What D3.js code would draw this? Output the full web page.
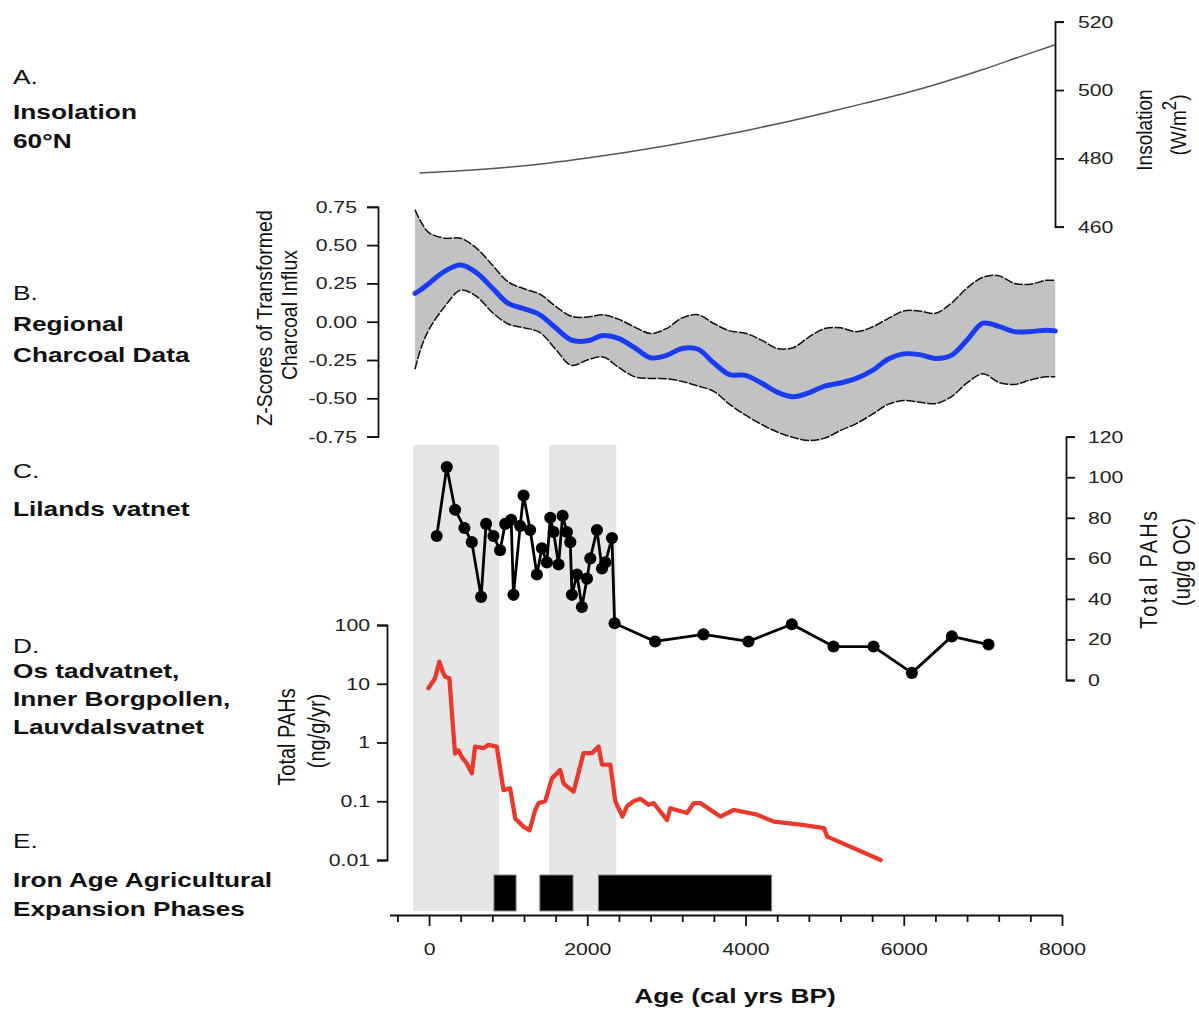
<!DOCTYPE html>
<html><head><meta charset="utf-8">
<script src="https://cdn.jsdelivr.net/npm/d3@7"></script>
<style>
body{margin:0;background:#fff;}
svg{display:block;font-family:"Liberation Sans",Arial,sans-serif;}
</style></head><body>
<svg id="chart" width="1199" height="1013"></svg>
<script>
// ---------------- DATA ----------------
const insolYears  = [-120, 500, 1000, 1500, 2000, 2500, 3000, 3500, 4000, 4500, 5000, 5500, 6000, 6500, 7000, 7500, 7920];
const insolValues = [475.7, 476.5, 477.4, 478.6, 480.1, 481.8, 483.7, 485.8, 488.1, 490.6, 493.3, 496.1, 499.0, 502.3, 506.0, 510.0, 513.3];
const insolTicks = [460, 480, 500, 520];

const charcoalYears = [-178, -100, 0, 200, 400, 600, 800, 1000, 1200, 1400, 1600, 1800, 2000, 2200, 2400, 2600, 2800, 3000, 3200, 3400, 3600, 3800, 4000, 4200, 4400, 4600, 4800, 5000, 5200, 5400, 5600, 5800, 6000, 6200, 6400, 6600, 6800, 7000, 7200, 7400, 7600, 7800, 7915];
const charcoalMean  = [0.185, 0.21, 0.25, 0.33, 0.37, 0.32, 0.22, 0.12, 0.085, 0.045, -0.04, -0.12, -0.125, -0.09, -0.11, -0.17, -0.235, -0.22, -0.175, -0.18, -0.27, -0.345, -0.35, -0.40, -0.46, -0.49, -0.465, -0.42, -0.40, -0.37, -0.32, -0.245, -0.21, -0.215, -0.24, -0.22, -0.12, -0.01, -0.03, -0.065, -0.065, -0.055, -0.06];
const charcoalUpper = [0.73, 0.65, 0.58, 0.545, 0.545, 0.48, 0.37, 0.26, 0.215, 0.18, 0.10, 0.035, 0.03, 0.045, 0.015, -0.035, -0.077, -0.045, 0.025, 0.045, -0.012, -0.06, -0.075, -0.12, -0.175, -0.17, -0.10, -0.045, -0.04, -0.065, -0.035, 0.02, 0.07, 0.07, 0.055, 0.12, 0.22, 0.29, 0.30, 0.25, 0.245, 0.27, 0.27];
const charcoalLower = [-0.31, -0.17, -0.05, 0.10, 0.205, 0.165, 0.06, -0.015, -0.04, -0.07, -0.18, -0.285, -0.25, -0.23, -0.30, -0.36, -0.37, -0.372, -0.39, -0.42, -0.455, -0.54, -0.61, -0.67, -0.72, -0.755, -0.776, -0.76, -0.71, -0.665, -0.605, -0.54, -0.515, -0.525, -0.535, -0.49, -0.40, -0.34, -0.395, -0.41, -0.38, -0.36, -0.36];
const charcoalTicks = [-0.75, -0.5, -0.25, 0, 0.25, 0.5, 0.75];

const lilandYears  = [97, 224, 329, 447, 540, 658, 721, 814, 898, 962, 1038, 1067, 1152, 1194, 1278, 1363, 1426, 1489, 1532, 1574, 1637, 1688, 1743, 1785, 1806, 1869, 1932, 1996, 2038, 2122, 2186, 2228, 2312, 2345, 2857, 3468, 4037, 4585, 5112, 5618, 6102, 6608, 7071];
const lilandValues = [71, 105, 84, 75, 68, 41, 77, 71, 64, 77, 79, 42, 76, 91, 74, 52, 65, 58, 80, 73, 57, 81, 73, 68, 42, 52, 36, 50, 60, 74, 55, 58, 70, 28, 19, 22.5, 19, 27.5, 16.5, 16.5, 3.5, 21.5, 17.5];
const lilandTicks = [0, 20, 40, 60, 80, 100, 120];

const fluxYears  = [-9, 76, 130, 173, 202, 257, 299, 329, 371, 413, 477, 540, 582, 687, 750, 856, 941, 1025, 1089, 1194, 1270, 1342, 1384, 1468, 1553, 1658, 1700, 1827, 1953, 2059, 2143, 2186, 2291, 2354, 2445, 2502, 2586, 2670, 2775, 2839, 3008, 3050, 3261, 3346, 3430, 3683, 3852, 4147, 4358, 4696, 4991, 5033, 5709];
const fluxValues = [8.4, 12.4, 23.8, 16, 13.2, 12.4, 2.1, 0.65, 0.74, 0.57, 0.44, 0.3, 0.85, 0.8, 0.91, 0.85, 0.155, 0.166, 0.051, 0.037, 0.032, 0.071, 0.093, 0.1, 0.245, 0.34, 0.2, 0.146, 0.66, 0.66, 0.85, 0.42, 0.42, 0.1, 0.055, 0.082, 0.1, 0.11, 0.087, 0.093, 0.048, 0.076, 0.063, 0.093, 0.093, 0.055, 0.071, 0.059, 0.045, 0.04, 0.035, 0.025, 0.01];
const fluxTicks = [0.01, 0.1, 1, 10, 100];
const fluxTickLabels = ["0.01", "0.1", "1", "10", "100"];

const shadeStart = [-200, 1519];
const shadeEnd   = [886, 2367];
const phaseStart = [820, 1400, 2140];
const phaseEnd   = [1100, 1820, 4330];

const ageTicks = d3.range(-400, 8001, 400);
const ageLabels = [0, 2000, 4000, 6000, 8000];

const panelLabels = [
  ["A.", false, 84], ["Insolation", true, 119], ["60°N", true, 148],
  ["B.", false, 300], ["Regional", true, 331], ["Charcoal Data", true, 362],
  ["C.", false, 478], ["Lilands vatnet", true, 516],
  ["D.", false, 653], ["Os tadvatnet,", true, 678], ["Inner Borgpollen,", true, 706], ["Lauvdalsvatnet", true, 734],
  ["E.", false, 848], ["Iron Age Agricultural", true, 887], ["Expansion Phases", true, 916]
];

// ---------------- SCALES ----------------
const SX = 1.25;
const svg = d3.select('#chart');
const x = d3.scaleLinear().domain([-500, 8000]).range([389.5, 1062]);
const yIns = d3.scaleLinear().domain([460, 520]).range([226.7, 21.7]);
const yChar = d3.scaleLinear().domain([-0.75, 0.75]).range([436.6, 206.8]);
const yPah = d3.scaleLinear().domain([0, 120]).range([680, 436.7]);
const yLog = d3.scaleLog().domain([0.01, 100]).range([860, 625]);

function stretchTicks(g, size) {
  g.selectAll('.tick text').each(function() {
    const t = d3.select(this);
    const xx = +t.attr('x') || 0;
    t.attr('x', xx / SX).attr('transform', `scale(${SX},1)`)
     .style('font-size', size + 'px').style('font-family', '"Liberation Sans",Arial,sans-serif').attr('fill', '#222');
  });
  g.selectAll('path.domain, .tick line').attr('stroke', '#111').attr('stroke-width', 1.8);
}
function hText(xx, yy, str, size, bold, anchor) {
  svg.append('text').attr('x', xx / SX).attr('y', yy).attr('transform', `scale(${SX},1)`)
    .attr('text-anchor', anchor || 'start').style('font-size', size + 'px')
    .style('font-weight', bold ? 'bold' : 'normal').attr('fill', '#111').text(str);
}
function vText(bx, cy, str, size, stretch) {
  return svg.append('text').attr('transform', `translate(${bx},${cy}) rotate(-90) scale(1,${stretch})`)
    .attr('text-anchor', 'middle').style('font-size', size + 'px').attr('fill', '#111').text(str);
}

// ---------------- SHADED PERIODS ----------------
svg.append('g').selectAll('rect').data(shadeStart).join('rect')
  .attr('x', (d) => x(d)).attr('width', (d, i) => x(shadeEnd[i]) - x(d))
  .attr('y', 445).attr('height', 911 - 445).attr('fill', '#e6e6e6');

// ---------------- A. INSOLATION ----------------
const insData = insolYears.map((d, i) => [d, insolValues[i]]);
svg.append('path').datum(insData).attr('fill', 'none').attr('stroke', '#555').attr('stroke-width', 1.5)
  .attr('d', d3.line().x(d => x(d[0])).y(d => yIns(d[1])).curve(d3.curveMonotoneX));
const gIns = svg.append('g').attr('transform', 'translate(1055,0)')
  .call(d3.axisRight(yIns).tickValues(insolTicks).tickSize(9).tickPadding(14));
stretchTicks(gIns, 17);
vText(1152, 130, 'Insolation', 19, 1.15);
const unit = svg.append('text').attr('transform', 'translate(1186,125) rotate(-90) scale(1,1.15)')
  .attr('text-anchor', 'middle').style('font-size', '19px').attr('fill', '#111');
unit.append('tspan').text('(W/m');
unit.append('tspan').attr('dy', -9).style('font-size', '17px').text('2');
unit.append('tspan').attr('dy', 9).text(')');

// ---------------- B. CHARCOAL ----------------
const chData = charcoalYears.map((d, i) => ({ t: d, m: charcoalMean[i], u: charcoalUpper[i], l: charcoalLower[i] }));
const cr = d3.curveCatmullRom.alpha(0.5);
svg.append('path').datum(chData).attr('fill', '#c2c2c2')
  .attr('d', d3.area().x(d => x(d.t)).y0(d => yChar(d.l)).y1(d => yChar(d.u)).curve(cr));
['u', 'l'].forEach(k => {
  svg.append('path').datum(chData).attr('fill', 'none').attr('stroke', '#111').attr('stroke-width', 1.5)
    .attr('stroke-dasharray', '9,1.5')
    .attr('d', d3.line().x(d => x(d.t)).y(d => yChar(d[k])).curve(cr));
});
svg.append('path').datum(chData).attr('fill', 'none').attr('stroke', '#1a3cf0').attr('stroke-width', 5)
  .attr('stroke-linecap', 'round')
  .attr('d', d3.line().x(d => x(d.t)).y(d => yChar(d.m)).curve(cr));
const gCh = svg.append('g').attr('transform', 'translate(378,0)')
  .call(d3.axisLeft(yChar).tickValues(charcoalTicks).tickSize(11).tickPadding(10).tickFormat(d => d.toFixed(2)));
stretchTicks(gCh, 17);
vText(272, 318, 'Z-Scores of Transformed', 19.5, 1.15);
vText(297, 315, 'Charcoal Influx', 19.5, 1.15);

// ---------------- C. LILANDSVATNET ----------------
const lilData = lilandYears.map((d, i) => [d, lilandValues[i]]);
svg.append('path').datum(lilData).attr('fill', 'none').attr('stroke', '#000').attr('stroke-width', 2.8)
  .attr('stroke-linejoin', 'round')
  .attr('d', d3.line().x(d => x(d[0])).y(d => yPah(d[1])));
svg.append('g').selectAll('path').data(lilData).join('path')
  .attr('transform', d => `translate(${x(d[0])},${yPah(d[1])})`)
  .attr('d', d3.symbol(d3.symbolCircle, 115)).attr('fill', '#000');
const gPah = svg.append('g').attr('transform', 'translate(1066,0)')
  .call(d3.axisRight(yPah).tickValues(lilandTicks).tickSize(9).tickPadding(13));
stretchTicks(gPah, 17);
vText(1157, 570, 'Total PAHs', 20, 1.15).attr('textLength', 118).attr('lengthAdjust', 'spacing');
vText(1190, 562, '(ug/g OC)', 20, 1.15);

// ---------------- D. FLUX (log) ----------------
const fluxData = fluxYears.map((d, i) => [d, fluxValues[i]]);
svg.append('path').datum(fluxData).attr('fill', 'none').attr('stroke', '#e8392c').attr('stroke-width', 4.3)
  .attr('stroke-linejoin', 'round').attr('stroke-linecap', 'round')
  .attr('d', d3.line().x(d => x(d[0])).y(d => yLog(d[1])));
const gLog = svg.append('g').attr('transform', 'translate(387,0)')
  .call(d3.axisLeft(yLog).tickValues(fluxTicks).tickSize(10).tickPadding(7)
    .tickFormat((d, i) => fluxTickLabels[i]));
stretchTicks(gLog, 17);
vText(295, 737, 'Total PAHs', 20, 1.15);
vText(325, 731, '(ng/g/yr)', 20, 1.15);

// ---------------- E. PHASES ----------------
svg.append('g').selectAll('rect').data(phaseStart).join('rect')
  .attr('x', d => x(d)).attr('width', (d, i) => x(phaseEnd[i]) - x(d))
  .attr('y', 875).attr('height', 36).attr('fill', '#000').attr('stroke', '#888').attr('stroke-width', 1);

// ---------------- X AXIS ----------------
const gX = svg.append('g').attr('transform', 'translate(0,915)')
  .call(d3.axisBottom(x).tickValues(ageTicks).tickSize(7).tickPadding(20).tickSizeOuter(0)
    .tickFormat(d => ageLabels.includes(d) ? d : ''));
stretchTicks(gX, 17);
gX.selectAll('.tick line').attr('y2', d => ageLabels.includes(d) ? 11 : 7);
gX.selectAll('.tick text').attr('y', 28);
hText(735, 1003, 'Age (cal yrs BP)', 21, true, 'middle');

// ---------------- PANEL LABELS ----------------
panelLabels.forEach(([s, b, yy]) => hText(13, yy, s, 21, b, 'start'));
</script>
</body></html>
